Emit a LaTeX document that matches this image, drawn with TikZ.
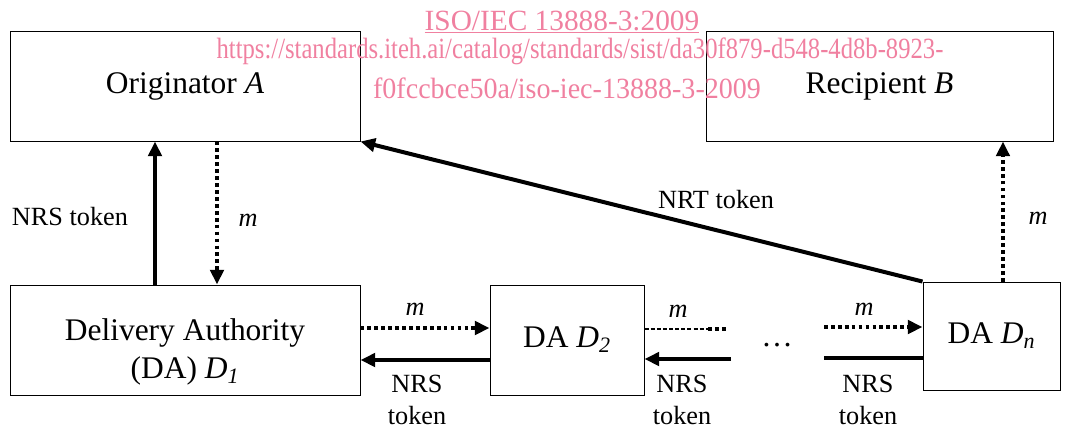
\documentclass[tikz,border=0pt]{standalone}
\usepackage{fontspec}
\setmainfont{Liberation Serif}
\usetikzlibrary{arrows.meta}

\definecolor{wmpink}{RGB}{240,128,160}

\begin{document}
\begin{tikzpicture}[
    x=0.75pt, y=-0.75pt,
    box/.style={draw, line width=0.75pt, inner sep=0pt, font=\fontsize{23.6}{28.5}\selectfont},
    boxtext/.style={align=center, inner sep=0pt, font=\fontsize{23.6}{28.5}\selectfont},
    lbl/.style={align=center, inner sep=0pt, font=\fontsize{19.7}{24}\selectfont},
    msg/.style={line width=2.8pt, dash pattern=on 2.8pt off 2.4pt, -{Triangle[length=11pt,width=10pt]}},
    tok/.style={line width=3pt, -{Triangle[length=11pt,width=10pt]}},
    wm/.style={text=wmpink, inner sep=0pt, font=\fontsize{22}{26}\selectfont}
    ]
    \useasboundingbox (0,0) rectangle (1068,430);

    %Nodes
    \node[box, minimum width=262.5pt, minimum height=82.5pt] (orig) at (185,86) {Originator \textit{A}};
    \node[box, minimum width=260.25pt, minimum height=82.5pt] (recip) at (879.5,86) {Recipient \textit{B}};

    \node[box, minimum width=262.5pt, minimum height=82.5pt] (d1) at (185,340) {};
    \node[boxtext] (d1text) at (185,352) {Delivery Authority\\(DA) \textit{D}\textsubscript{\textit{1}}};
    \node[box, minimum width=115.5pt, minimum height=82.5pt] (d2) at (567,340) {DA \textit{D}\textsubscript{\textit{2}}};
    \node[box, minimum width=102.75pt, minimum height=81pt] (dn) at (991.5,336) {DA \textit{D}\textsubscript{\textit{n}}};

    \node[boxtext] (gap) at (777,345) {…};

    \coordinate (d2dash) at (708,329);
    \coordinate (d2dots) at (728,329);
    \coordinate (d2tok) at (731,359);
    \coordinate (dnmsg) at (824,327);
    \coordinate (dntok) at (824,358);
    \coordinate (mup) at ([xshift=8.6pt]dn.north);

    %Lines
    \draw[tok] ([xshift=-22.5pt]d1.north) -- ([xshift=-22.5pt]orig.south);
    \draw[msg] ([xshift=24pt]orig.south) -- ([xshift=24pt]d1.north);
    \draw[tok] (dn.north west) -- (orig.south east);
    \draw[msg] (mup) -- (mup |- recip.south);

    \draw[msg] ([yshift=9pt]d1.east) -- ([yshift=9pt]d2.west);
    \draw[tok] ([yshift=-15pt]d2.west) -- ([yshift=-15pt]d1.east);

    \draw[line width=1.1pt, dash pattern=on 3pt off 1.6pt] ([yshift=8.25pt]d2.east) -- (d2dash);
    \draw[line width=2.8pt, dash pattern=on 2.8pt off 2.4pt] (d2dash) -- (d2dots);
    \draw[tok] (d2tok) -- ([yshift=-14.25pt]d2.east);

    \draw[msg] (dnmsg) -- (dnmsg -| dn.west);
    \draw[line width=3pt] (dntok) -- (dntok -| dn.west);

    %Labels
    \node[lbl] (nrsA) at (70,217) {NRS token};
    \node[lbl] (mA) at (248,220) {\textit{m}};
    \node[lbl] (nrt) at (716,200) {NRT token};
    \node[lbl] (mB) at (1038,218) {\textit{m}};
    \node[lbl] (m1) at (415,309) {\textit{m}};
    \node[lbl] (nrs1) at (417,400) {NRS\\token};
    \node[lbl] (m2) at (678,311) {\textit{m}};
    \node[lbl] (nrs2) at (682,400) {NRS\\token};
    \node[lbl] (mn) at (864,309) {\textit{m}};
    \node[lbl] (nrsn) at (868,400) {NRS\\token};

    %Watermark
    \node[wm] (wm1) at (562,22) {\underline{ISO/IEC 13888-3:2009}};
    \node[wm] (wm2) at (580,51) {\scalebox{0.84}[1]{https://standards.iteh.ai/catalog/standards/sist/da30f879-d548-4d8b-8923-}};
    \node[wm] (wm3) at (567,88) {\scalebox{0.956}[1]{f0fccbce50a/iso-iec-13888-3-2009}};
\end{tikzpicture}
\end{document}
